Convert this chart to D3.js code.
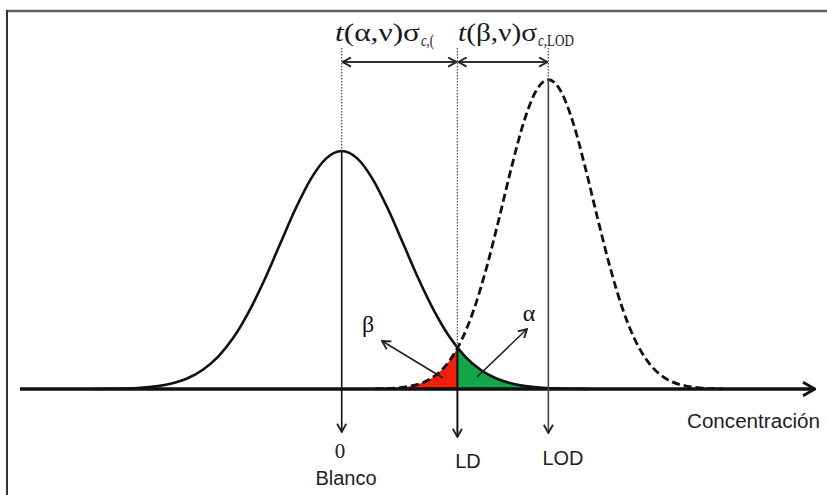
<!DOCTYPE html>
<html><head><meta charset="utf-8">
<script src="https://cdn.jsdelivr.net/npm/d3@7/dist/d3.min.js"></script>
<style>body{margin:0;background:#fff}svg{display:block}</style>
</head><body>
<svg id="c" width="827" height="495"></svg>
<script>
// Blank distribution (concentration in units of sigma, relative height)
const blankX = [-4,-3.75,-3.5,-3.25,-3,-2.75,-2.5,-2.25,-2,-1.75,-1.5,-1.25,-1,-0.75,-0.5,-0.25,0,0.25,0.5,0.75,1,1.25,1.5,1.75,2,2.25,2.5,2.75,3,3.25,3.5,3.75,4];
const blankY = [0,0.001,0.002,0.005,0.011,0.023,0.044,0.080,0.135,0.216,0.325,0.458,0.607,0.755,0.882,0.969,1,0.969,0.882,0.755,0.607,0.458,0.325,0.216,0.135,0.080,0.044,0.023,0.011,0.005,0.002,0.001,0];
// LOD distribution
const lodX = [0.54,0.74,0.94,1.14,1.34,1.54,1.74,1.94,2.14,2.34,2.54,2.74,2.94,3.14,3.34,3.54,3.74,3.94,4.14,4.34,4.54,4.74,4.94,5.14,5.34,5.54,5.74,5.94,6.14];
const lodY = [0.001,0.002,0.006,0.014,0.030,0.062,0.118,0.207,0.337,0.509,0.713,0.927,1.119,1.252,1.30,1.252,1.119,0.927,0.713,0.509,0.337,0.207,0.118,0.062,0.030,0.014,0.006,0.002,0.001];
// Key positions
const markerNames = ["0", "LD", "LOD"];
const markerX = [0, 1.87, 3.34];
const markerTop = [1, 0.172, 1.30];   // where the dotted guide turns solid
const axisLabel = "Concentración";
const blankLabel = "Blanco";

const svg = d3.select("#c");
const x = d3.scaleLinear().domain([-5.2, 7.65]).range([20, 815]);
const y = d3.scaleLinear().domain([0, 1]).range([389, 151]);

const defs = svg.append("defs");
function mk(id, size, sw, col) {
  defs.append("marker").attr("id", id).attr("viewBox", "0 0 12 12")
    .attr("refX", 11).attr("refY", 6).attr("markerWidth", size).attr("markerHeight", size)
    .attr("markerUnits", "userSpaceOnUse").attr("orient", "auto-start-reverse")
    .append("path").attr("d", "M2,1 L11,6 L2,11").attr("fill", "none")
    .attr("stroke", col).attr("stroke-width", sw).attr("stroke-linejoin", "miter");
}
mk("ah", 11, 2, "#222");
mk("ahBig", 16, 2.2, "#111");

// frame
svg.append("line").attr("x1", 6).attr("x2", 827).attr("y1", 11).attr("y2", 11).attr("stroke", "#666").attr("stroke-width", 2.5);
svg.append("line").attr("x1", 7).attr("x2", 7).attr("y1", 10).attr("y2", 495).attr("stroke", "#333").attr("stroke-width", 2);

const blank = blankX.map((v, i) => [v, blankY[i]]);
const lod = lodX.map((v, i) => [v, lodY[i]]);

// shaded areas
defs.append("clipPath").attr("id", "leftLD").append("rect")
  .attr("x", 0).attr("y", 0).attr("width", x(markerX[1])).attr("height", 495);
defs.append("clipPath").attr("id", "rightLD").append("rect")
  .attr("x", x(markerX[1])).attr("y", 0).attr("width", 827).attr("height", 495);
const area = d3.area().x(d => x(d[0])).y0(y(0)).y1(d => y(d[1])).curve(d3.curveMonotoneX);
svg.append("path").datum(lod).attr("d", area).attr("fill", "#f0200c").attr("clip-path", "url(#leftLD)");
svg.append("path").datum(blank).attr("d", area).attr("fill", "#14a54a").attr("clip-path", "url(#rightLD)");

// curves
const line = d3.line().x(d => x(d[0])).y(d => y(d[1])).curve(d3.curveMonotoneX);
svg.append("path").datum(blank).attr("d", line).attr("fill", "none").attr("stroke", "#111").attr("stroke-width", 2.6);
svg.append("path").datum(lod).attr("d", line).attr("fill", "none").attr("stroke", "#111").attr("stroke-width", 2.8).attr("stroke-dasharray", "8,4");

// axis baseline
svg.append("line").attr("x1", x.range()[0]).attr("x2", x.range()[1]).attr("y1", y(0)).attr("y2", y(0))
  .attr("stroke", "#111").attr("stroke-width", 3.5).attr("marker-end", "url(#ahBig)");

// vertical guides
const arrowEnd = [432, 437, 433];
markerX.forEach((m, i) => {
  const px = x(m);
  svg.append("line").attr("x1", px).attr("x2", px).attr("y1", 48).attr("y2", y(markerTop[i]))
    .attr("stroke", "#555").attr("stroke-width", 1.3).attr("stroke-dasharray", "1.5,1.5");
  svg.append("line").attr("x1", px).attr("x2", px).attr("y1", y(markerTop[i])).attr("y2", arrowEnd[i])
    .attr("stroke", i === 2 ? "#444" : "#111").attr("stroke-width", i === 1 ? 2 : 1.6).attr("marker-end", "url(#ah)");
});

// double arrows
[[0, 1], [1, 2]].forEach(([a, b]) => {
  svg.append("line").attr("x1", x(markerX[a]) + 1).attr("x2", x(markerX[b]) - 1).attr("y1", 62).attr("y2", 62)
    .attr("stroke", "#333").attr("stroke-width", 1.8)
    .attr("marker-start", "url(#ah)").attr("marker-end", "url(#ah)");
});

// top formula labels
const serif = "'Liberation Serif','Times New Roman',serif";
function formula(x0, main, w, sub, sw) {
  svg.append("text").attr("x", x0).attr("y", 41).attr("font-family", serif).attr("font-size", 25)
    .attr("fill", "#1a1a1a").attr("textLength", w).attr("lengthAdjust", "spacingAndGlyphs")
    .html(main);
  const t = svg.append("text").attr("x", x0 + w + 1).attr("y", 46).attr("font-family", serif).attr("font-size", 16)
    .attr("fill", "#1a1a1a").attr("textLength", sw).attr("lengthAdjust", "spacingAndGlyphs");
  t.append("tspan").attr("font-style", "italic").text(sub[0]);
  t.append("tspan").text(sub[1]);
}
formula(335, '<tspan font-style="italic">t</tspan>(α,ν)σ', 85, ["c", ",("], 13);
formula(458, '<tspan font-style="italic">t</tspan>(β,ν)σ', 79, ["c", ",LOD"], 36);

// alpha / beta arrows
svg.append("line").attr("x1", 443).attr("y1", 378).attr("x2", 382).attr("y2", 341)
  .attr("stroke", "#222").attr("stroke-width", 1.6).attr("marker-end", "url(#ah)");
svg.append("line").attr("x1", 477).attr("y1", 377).attr("x2", 527).attr("y2", 329)
  .attr("stroke", "#222").attr("stroke-width", 1.6).attr("marker-end", "url(#ah)");
svg.append("text").attr("x", 368).attr("y", 332).attr("text-anchor", "middle").attr("font-family", serif)
  .attr("font-size", 24).attr("fill", "#111").text("β");
svg.append("text").attr("x", 529).attr("y", 321).attr("text-anchor", "middle").attr("font-family", serif)
  .attr("font-size", 24).attr("fill", "#111").text("α");

// bottom labels
const sans = "'Liberation Sans',Arial,sans-serif";
const labX = [340, 468, 563];
const labY = [458, 468, 465];
markerNames.forEach((n, i) => {
  svg.append("text").attr("x", labX[i]).attr("y", labY[i]).attr("text-anchor", "middle")
    .attr("font-family", i === 0 ? serif : sans).attr("font-size", i === 0 ? 21 : 20).attr("fill", "#222").text(n);
});
svg.append("text").attr("x", 346).attr("y", 485).attr("text-anchor", "middle").attr("font-family", sans)
  .attr("font-size", 20).attr("fill", "#222").text(blankLabel);
svg.append("text").attr("x", 687).attr("y", 428).attr("font-family", sans)
  .attr("font-size", 20).attr("fill", "#222").attr("textLength", 133).attr("lengthAdjust", "spacingAndGlyphs").text(axisLabel);
</script>
</body></html>
